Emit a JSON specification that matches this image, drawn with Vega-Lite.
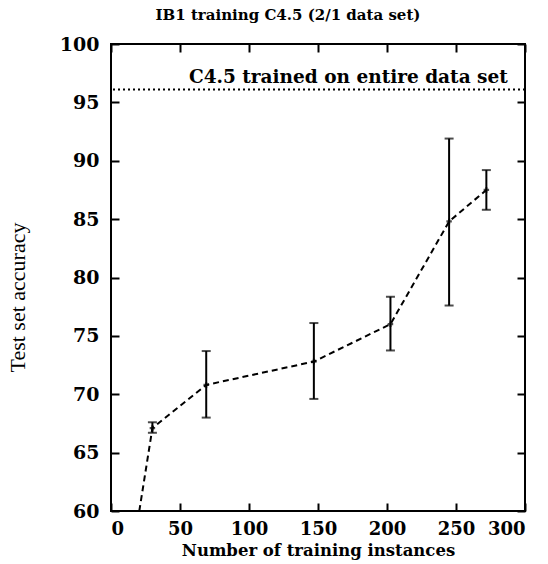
{
  "$schema": "https://vega.github.io/schema/vega-lite/v6.json",
  "width": 414,
  "height": 467,
  "autosize": "none",
  "padding": {"left": 111, "top": 44, "right": 23, "bottom": 53},
  "background": "white",
  "title": {"text": "IB1 training C4.5 (2/1 data set)", "font": "DejaVu Serif", "fontSize": 15, "fontWeight": "bold", "color": "black", "frame": "group", "anchor": "middle", "dx": -30, "offset": 12},
  "datasets": {
    "curve": [
      {"n": 20.5, "acc": 60},
      {"n": 30, "acc": 67.1},
      {"n": 69, "acc": 70.8},
      {"n": 147, "acc": 72.8},
      {"n": 202.5, "acc": 76.0},
      {"n": 245, "acc": 84.8},
      {"n": 272, "acc": 87.5}
    ],
    "bars": [
      {"n": 30, "acc": 67.1, "lo": 66.7, "hi": 67.6},
      {"n": 69, "acc": 70.8, "lo": 68.0, "hi": 73.7},
      {"n": 147, "acc": 72.8, "lo": 69.6, "hi": 76.1},
      {"n": 202.5, "acc": 76.0, "lo": 73.75, "hi": 78.35},
      {"n": 245, "acc": 84.8, "lo": 77.6, "hi": 91.9},
      {"n": 272, "acc": 87.5, "lo": 85.8, "hi": 89.2}
    ],
    "ref": [{"acc": 96.1, "label": "C4.5 trained on entire data set", "n": 172}]
  },
  "config": {
    "view": {"stroke": "black", "strokeWidth": 2},
    "axis": {"grid": false, "domain": false, "tickColor": "black", "tickWidth": 2, "labelColor": "black", "titleColor": "black"}
  },
  "resolve": {"axis": {"x": "independent", "y": "independent"}},
  "layer": [
    {
      "data": {"name": "ref"},
      "mark": {"type": "rule", "strokeDash": [2, 3], "strokeWidth": 2, "color": "black"},
      "encoding": {
        "y": {"field": "acc", "type": "quantitative", "scale": {"domain": [60, 100], "nice": false, "zero": false},
          "axis": {"orient": "left", "values": [60, 65, 70, 75, 80, 85, 90, 95, 100], "tickSize": -8, "labelPadding": 20, "labelFont": "DejaVu Serif", "labelFontWeight": "bold", "labelFontSize": 19, "title": "Test set accuracy", "titleFont": "Liberation Serif", "titleFontWeight": "normal", "titleFontSize": 22, "titleX": -82, "titleY": 253}}
      }
    },
    {
      "data": {"name": "ref"},
      "mark": {"type": "text", "font": "DejaVu Serif", "fontWeight": "bold", "fontSize": 18.5, "baseline": "bottom", "dy": -3, "color": "black"},
      "encoding": {
        "x": {"field": "n", "type": "quantitative", "scale": {"domain": [0, 300], "nice": false},
          "axis": {"orient": "bottom", "values": [0, 50, 100, 150, 200, 250, 300], "tickSize": -8, "labelPadding": 17, "labelFont": "DejaVu Serif", "labelFontWeight": "bold", "labelFontSize": 18, "title": "Number of training instances", "titleFont": "DejaVu Serif", "titleFontWeight": "bold", "titleFontSize": 16.5, "titlePadding": 4}},
        "y": {"field": "acc", "type": "quantitative", "axis": {"orient": "right", "values": [60, 65, 70, 75, 80, 85, 90, 95, 100], "tickSize": -8, "labels": false, "title": null}},
        "text": {"field": "label"}
      }
    },
    {
      "data": {"name": "curve"},
      "mark": {"type": "line", "strokeDash": [6, 4], "strokeWidth": 2, "color": "black", "clip": true},
      "encoding": {
        "x": {"field": "n", "type": "quantitative", "axis": {"orient": "top", "values": [0, 50, 100, 150, 200, 250, 300], "tickSize": -8, "labels": false, "title": null}},
        "y": {"field": "acc", "type": "quantitative", "axis": null}
      }
    },
    {
      "data": {"name": "bars"},
      "mark": {"type": "rule", "strokeWidth": 2, "color": "black"},
      "encoding": {
        "x": {"field": "n", "type": "quantitative", "axis": null},
        "y": {"field": "lo", "type": "quantitative", "axis": null},
        "y2": {"field": "hi"}
      }
    },
    {
      "data": {"name": "bars"},
      "mark": {"type": "tick", "orient": "horizontal", "size": 9, "thickness": 2, "color": "black"},
      "encoding": {
        "x": {"field": "n", "type": "quantitative", "axis": null},
        "y": {"field": "lo", "type": "quantitative", "axis": null}
      }
    },
    {
      "data": {"name": "bars"},
      "mark": {"type": "tick", "orient": "horizontal", "size": 9, "thickness": 2, "color": "black"},
      "encoding": {
        "x": {"field": "n", "type": "quantitative", "axis": null},
        "y": {"field": "hi", "type": "quantitative", "axis": null}
      }
    },
    {
      "data": {"name": "bars"},
      "mark": {"type": "point", "shape": "cross", "size": 30, "filled": true, "color": "black"},
      "encoding": {
        "x": {"field": "n", "type": "quantitative", "axis": null},
        "y": {"field": "acc", "type": "quantitative", "axis": null}
      }
    }
  ]
}
